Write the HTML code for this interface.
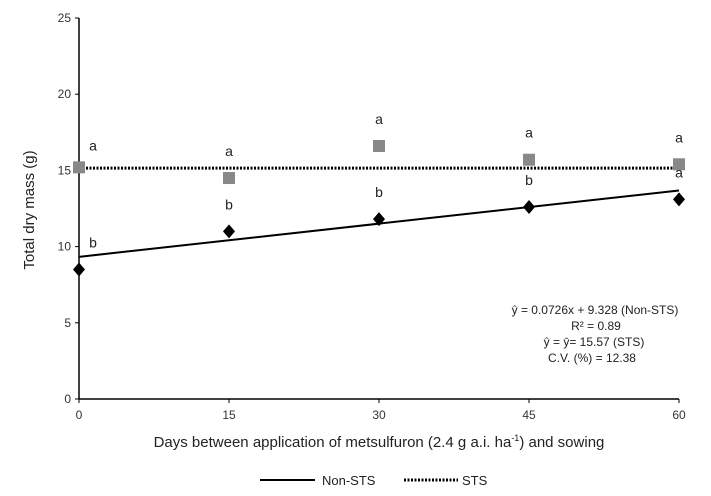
<!DOCTYPE html>
<html><head><meta charset="utf-8"><style>
body{margin:0;background:#fff;}
svg{display:block;font-family:"Liberation Sans Narrow","Liberation Sans",sans-serif;}
</style></head><body>
<svg id="chart" width="711" height="496" viewBox="0 0 711 496" xmlns="http://www.w3.org/2000/svg"></svg>
<script>
const days = [0, 15, 30, 45, 60];
const nonSTS = [8.5, 11.0, 11.8, 12.6, 13.1];
const sts = [15.2, 14.5, 16.6, 15.7, 15.4];
const nonSTSLetters = ["b", "b", "b", "b", "a"];
const stsLetters = ["a", "a", "a", "a", "a"];
const yTicks = [0, 5, 10, 15, 20, 25];
const xTicks = [0, 15, 30, 45, 60];
const regSlope = 0.0726, regIntercept = 9.328;
const stsMean = 15.15;

const svg = document.getElementById('chart');
const NS = 'http://www.w3.org/2000/svg';
const x = d => 79 + d * 10;
const y = v => 399 - v * 15.24;
function mk(tag, attrs, parent) {
  const e = document.createElementNS(NS, tag);
  for (const k in attrs) e.setAttribute(k, attrs[k]);
  (parent || svg).appendChild(e);
  return e;
}
function txt(s, attrs) { const t = mk('text', attrs); t.textContent = s; return t; }

let e;
e = mk('line', {x1: x(0), y1: y(0), x2: x(0), y2: y(25), stroke: '#000', 'stroke-width': 1.5});
 
e = mk('line', {x1: x(0), y1: y(0), x2: x(60), y2: y(0), stroke: '#000', 'stroke-width': 1.5});
 

yTicks.forEach(v => {
  mk('line', {x1: x(0) - 4, y1: y(v), x2: x(0), y2: y(v), stroke: '#000'});
  e = txt(v, {x: x(0) - 8, y: y(v) + 4, 'text-anchor': 'end', 'font-size': 12, fill: '#333'});
   
});
xTicks.forEach(v => {
  mk('line', {x1: x(v), y1: y(0), x2: x(v), y2: y(0) + 4, stroke: '#000'});
  e = txt(v, {x: x(v), y: y(0) + 20, 'text-anchor': 'middle', 'font-size': 12, fill: '#333'});
   
});

e = txt('Total dry mass (g)', {x: 0, y: 0, transform: 'translate(34,210) rotate(-90)', 'text-anchor': 'middle', 'font-size': 15, fill: '#222'});
 
e = mk('text', {x: 379, y: 447, 'text-anchor': 'middle', 'font-size': 15, fill: '#222'});
e.innerHTML = 'Days between application of metsulfuron (2.4 g a.i. ha<tspan font-size="9" dy="-6">-1</tspan><tspan dy="6">) and sowing</tspan>';
 

// lines
e = mk('line', {x1: x(0), y1: y(stsMean), x2: x(60), y2: y(stsMean), stroke: '#000', 'stroke-width': 3, 'stroke-dasharray': '2 1.5'});
 
e = mk('line', {x1: x(0), y1: y(regIntercept), x2: x(60), y2: y(regIntercept + regSlope * 60), stroke: '#000', 'stroke-width': 2});
 

days.forEach((d, i) => {
  const cx = x(d), cy = y(sts[i]);
  e = mk('rect', {x: cx - 6, y: cy - 6, width: 12, height: 12, fill: '#888'});
   
  e = txt(stsLetters[i], {x: cx + (d === 0 ? 14 : 0), y: cy - (d === 0 ? 17 : 22), 'text-anchor': 'middle', 'font-size': 14, fill: '#222'});
   
  const dy = y(nonSTS[i]);
  e = mk('path', {d: `M${cx} ${dy-7} L${cx+6} ${dy} L${cx} ${dy+7} L${cx-6} ${dy} Z`, fill: '#000'});
   
  e = txt(nonSTSLetters[i], {x: cx + (d === 0 ? 14 : 0), y: dy - (d === 0 ? 22 : 22), 'text-anchor': 'middle', 'font-size': 14, fill: '#222'});
   
});

const eq = ['ŷ = 0.0726x + 9.328 (Non-STS)', 'R² = 0.89', 'ŷ =  ȳ= 15.57 (STS)', 'C.V. (%) = 12.38'];
const eqX = [595, 596, 594, 592];
eq.forEach((s, i) => {
  e = txt(s, {x: eqX[i], y: 314 + i * 16, 'text-anchor': 'middle', 'font-size': 12, fill: '#222'});
   
});

// legend
e = mk('line', {x1: 260, y1: 480, x2: 315, y2: 480, stroke: '#000', 'stroke-width': 2});
 
e = txt('Non-STS', {x: 322, y: 485, 'font-size': 13, fill: '#222'});
 
e = mk('line', {x1: 404, y1: 480, x2: 458, y2: 480, stroke: '#000', 'stroke-width': 3, 'stroke-dasharray': '2 1.5'});
 
e = txt('STS', {x: 462, y: 485, 'font-size': 13, fill: '#222'});
 
</script>
</body></html>
